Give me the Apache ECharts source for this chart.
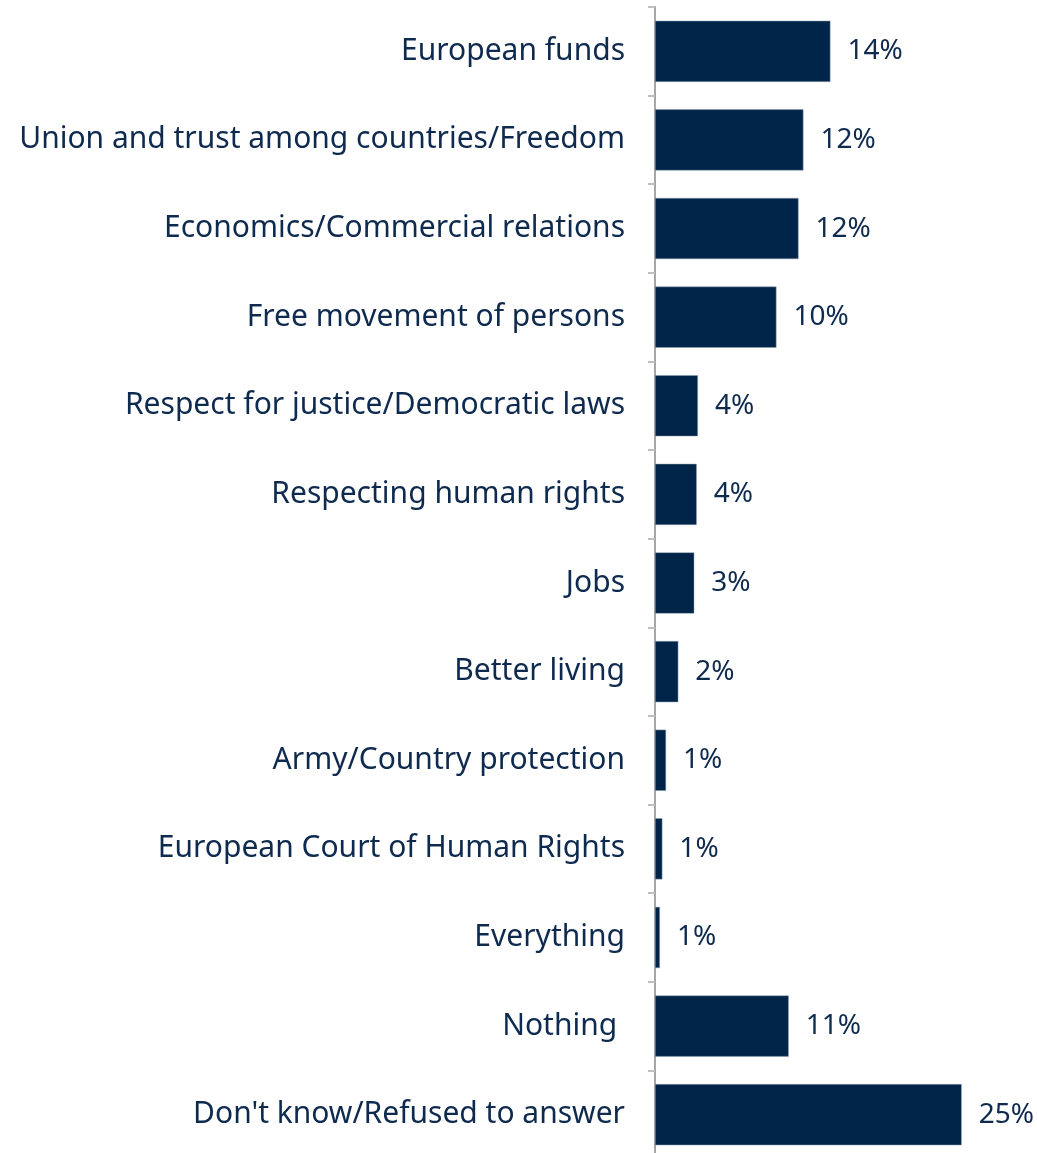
<!DOCTYPE html>
<html><head><meta charset="utf-8">
<script src="https://cdn.jsdelivr.net/npm/echarts@6/dist/echarts.min.js"></script>
<style>html,body{margin:0;padding:0;background:#fff}#c{width:1037px;height:1153px}</style>
</head><body><div id="c"></div>
<script>
const categories = ["European funds","Union and trust among countries/Freedom","Economics/Commercial relations","Free movement of persons","Respect for justice/Democratic laws","Respecting human rights","Jobs","Better living","Army/Country protection","European Court of Human Rights","Everything","Nothing ","Don't know/Refused to answer"];
const values = [14.3,12.1,11.7,9.9,3.5,3.4,3.2,1.9,0.9,0.6,0.4,10.9,25.0];
const valueLabels = ["14%","12%","12%","10%","4%","4%","3%","2%","1%","1%","1%","11%","25%"];
const FONT = "Noto Sans";
const chart = echarts.init(document.getElementById('c'));
chart.setOption({
  animation:false,
  backgroundColor:'#fff',
  grid:{left:655, top:7, height:1152, right:14, containLabel:false, outerBoundsMode:'none'},
  xAxis:{type:'value', min:0, max:30, show:false},
  yAxis:{type:'category', inverse:true, data:categories,
    axisLine:{lineStyle:{color:'#a6a6a6', width:2}},
    axisTick:{show:true, length:7, lineStyle:{color:'#bfbfbf', width:2}},
    axisLabel:{margin:30, fontFamily:FONT, fontSize:30, color:'#0e2a4e'}
  },
  series:[{type:'bar', data:values, barWidth:'69%',
    itemStyle:{color:'#012548', borderColor:'#8fa0b4', borderWidth:0.5},
    label:{show:true, position:'right', distance:17, fontFamily:FONT, fontSize:28, color:'#0e2a4e',
      formatter:p=>valueLabels[p.dataIndex]}
  }]
});
</script></body></html>
